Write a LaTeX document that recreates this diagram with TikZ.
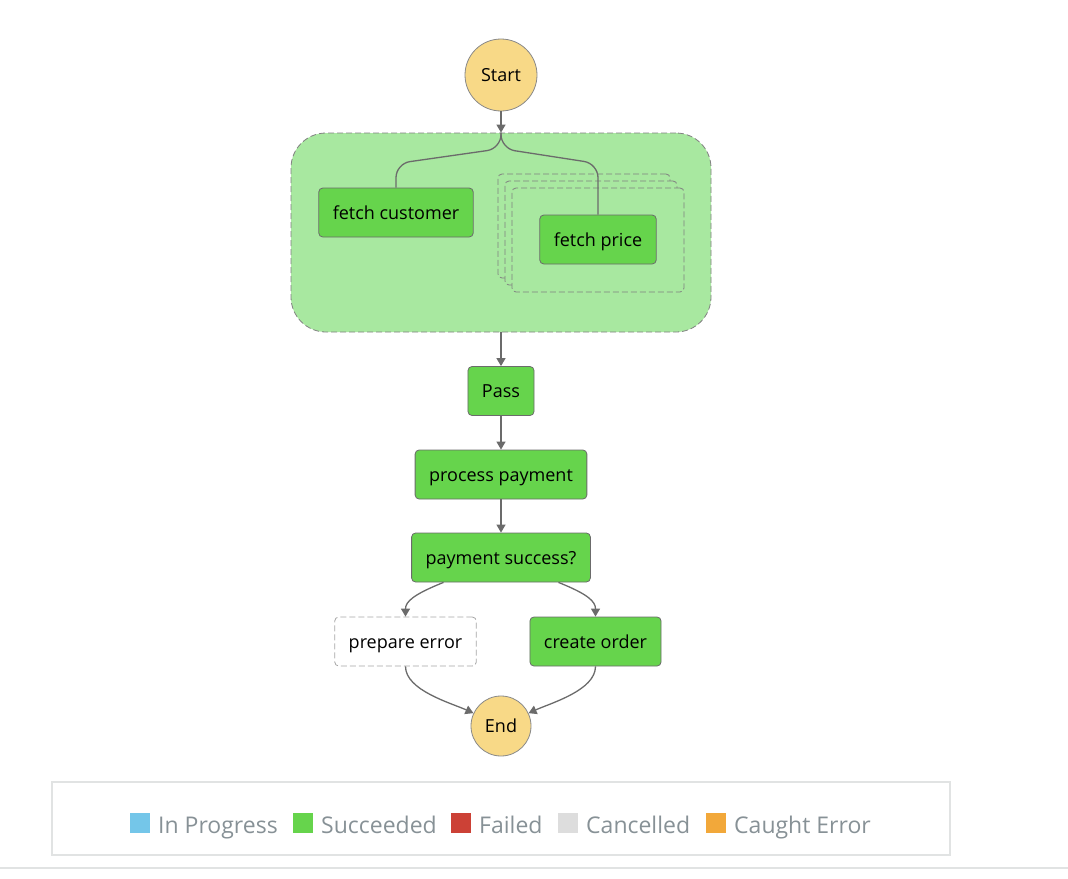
\documentclass[tikz,border=0pt]{standalone}
\usepackage{fontspec}
\setmainfont{Open Sans}
\usepackage{tikz}
\usetikzlibrary{arrows.meta, calc}
\usepackage{xcolor}
\definecolor{okgreen}{HTML}{66D44C}
\definecolor{pargreen}{HTML}{A8E8A0}
\definecolor{termyellow}{HTML}{F8D987}
\definecolor{edgegray}{HTML}{6B6B6B}
\definecolor{legendtext}{HTML}{879196}
\definecolor{legendline}{HTML}{E1E3E3}
\definecolor{inprogress}{HTML}{74C6E9}
\definecolor{failed}{HTML}{CC4136}
\definecolor{cancelled}{HTML}{DDDDDD}
\definecolor{caught}{HTML}{F2A83A}

\tikzset{
  state/.style={rectangle, rounded corners=4pt, draw=edgegray, fill=okgreen,
    line width=0.8pt, minimum height=49pt, inner xsep=14pt,
    text height=17pt, text depth=4pt,
    font=\fontsize{18}{20}\selectfont},
  skipped/.style={state, fill=white, draw=gray!70, dash pattern=on 6pt off 3pt},
  terminal/.style={circle, draw=edgegray!80, fill=termyellow, line width=0.8pt,
    inner sep=0pt, text height=17pt, text depth=4pt,
    font=\fontsize{18}{20}\selectfont},
  parallel/.style={rectangle, rounded corners=35pt, fill=pargreen, draw=gray,
    line width=0.8pt, dash pattern=on 6pt off 3pt},
  mapbox/.style={rectangle, rounded corners=4pt, fill=pargreen, draw=gray,
    line width=0.8pt, dash pattern=on 6pt off 3pt,
    minimum width=172pt, minimum height=104pt},
  flow/.style={draw=edgegray, line width=1.3pt, -{Triangle[length=8pt,width=9pt]}},
  branch/.style={draw=edgegray, line width=1.3pt, rounded corners=14pt},
  swatch/.style={rectangle, minimum size=20pt, inner sep=0pt},
  legendlabel/.style={anchor=base west, inner sep=0pt, text=legendtext,
    font=\fontsize{23}{26}\selectfont},
}

\begin{document}
\begin{tikzpicture}[x=1pt, y=-1pt]
\useasboundingbox (0,0) rectangle (1068,878);

% parallel block with its two branches
\node[terminal, minimum size=72pt] (start) at (501,75) {Start};
\node[parallel, minimum width=420pt, minimum height=199pt] (par) at (501,232.5) {};
\foreach \d/\n in {14/back, 7/mid, 0/front}
  \node[mapbox] (map\n) at ($(598,240)+(-\d,-\d)$) {};
\node[state] (fc) at (396,212.5) {fetch customer};
\node[state] (fp) at (598,239.5) {fetch price};

\draw[flow] (start) -- (par.north);
\draw[branch] (par.north) -- ++(0,16) -- ($(fc.north)+(0,-24)$) -- (fc.north);
\draw[branch] (par.north) -- ++(0,16) -- ($(fp.north)+(0,-51)$) -- (fp.north);

% main chain
\node[state] (pass) at (501,391) {Pass};
\node[state] (pay) at (501,474.5) {process payment};
\node[state] (ok) at (501,557.5) {payment success?};
\node[skipped] (err) at (405.5,641.5) {prepare error};
\node[state] (order) at (595.5,641.5) {create order};
\node[terminal, minimum size=60pt] (end) at (501,726) {End};

\draw[flow] (par.south) -- (pass.north);
\draw[flow] (pass) -- (pay);
\draw[flow] (pay) -- (ok);
\draw[flow] ($(ok.south west)!0.18!(ok.south east)$) .. controls +(-30,12) and +(0,-15) .. (err.north);
\draw[flow] ($(ok.south west)!0.82!(ok.south east)$) .. controls +(30,12) and +(0,-15) .. (order.north);
\draw[flow] (err.south) .. controls +(0,24) and +(-22,-10) .. (end.155);
\draw[flow] (order.south) .. controls +(0,24) and +(22,-10) .. (end.25);

% legend
\node[draw=legendline, line width=2pt, minimum width=898pt, minimum height=73pt] (legend) at (501,818.5) {};
\foreach \c/\x/\t in {inprogress/130/In Progress, okgreen/293/Succeeded, failed/451/Failed,
                      cancelled/558/Cancelled, caught/706/Caught Error} {
  \node[swatch, fill=\c] (sw\x) at (\x+10,823) {};
  \node[legendlabel] (lb\x) at (\x+28,833) {\t};
}
\draw[legendline, line width=2pt] (0,868) -- (1068,868);
\end{tikzpicture}
\end{document}
